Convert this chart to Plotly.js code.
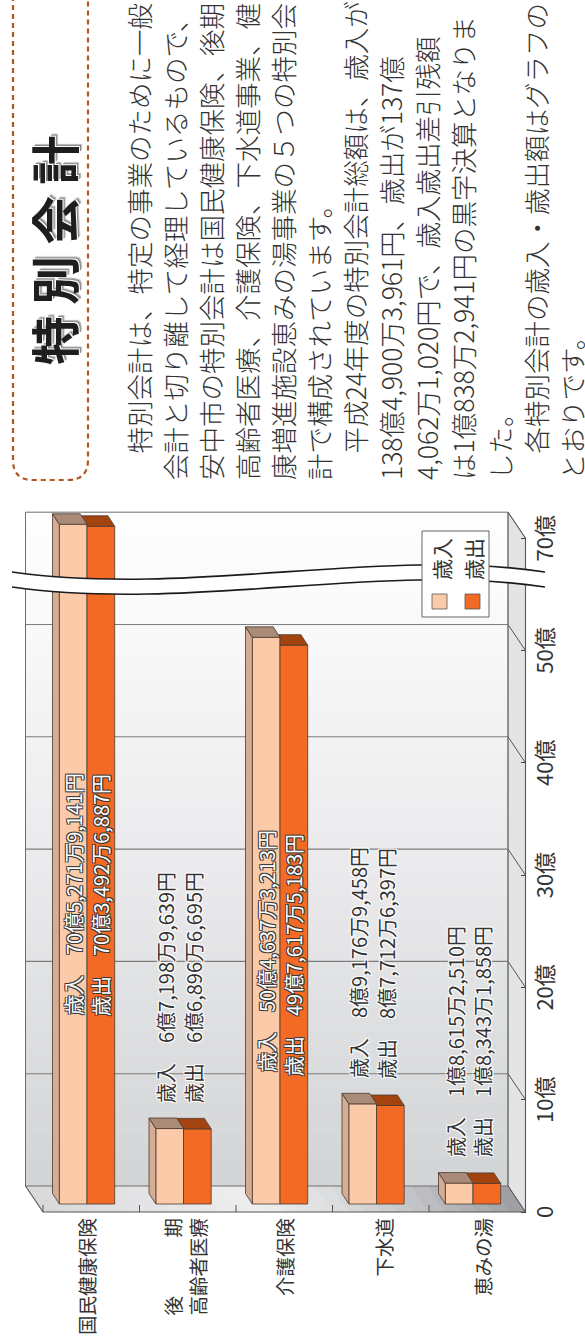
<!DOCTYPE html>
<html><head><meta charset="utf-8">
<script src="https://cdn.plot.ly/plotly-3.0.1.min.js"></script>
<style>
html,body{margin:0;padding:0;background:#fff;overflow:hidden;width:585px;height:1342px;}
#wrap{position:absolute;left:0;top:0;width:1342px;height:585px;transform-origin:0 0;transform:translate(0px,1342px) rotate(-90deg);}
#chart{width:1342px;height:585px;}
</style></head><body><div id="wrap"><div id="chart"></div></div>
<script>
// ---------------- data ----------------
const categories = ['国民健康保険', '後期高齢者医療', '介護保険', '下水道', '恵みの湯'];
const categoryLabels = ['国民健康保険', '後　　　期<br>高齢者医療', '介護保険', '下水道', '恵みの湯'];
const seriesNames = ['歳入', '歳出'];
const revenueYen = [7052719141, 671989639, 5046373213, 891769458, 186152510];
const expenditureYen = [7034926887, 668966695, 4976175183, 877126397, 183431858];
const tickValues = [0, 10, 20, 30, 40, 50, 70];
const tickLabels = ['0', '10億', '20億', '30億', '40億', '50億', '70億'];
const titleText = '特\u00a0別\u00a0会\u00a0計';
const bodyLines = [
  '　特別会計は、特定の事業のために一般',
  '会計と切り離して経理しているもので、',
  '安中市の特別会計は国民健康保険、後期',
  '高齢者医療、介護保険、下水道事業、健',
  '康増進施設恵みの湯事業の５つの特別会',
  '計で構成されています。',
  '　平成24年度の特別会計総額は、歳入が',
  '138億4,900万3,961円、歳出が137億',
  '4,062万1,020円で、歳入歳出差引残額',
  'は1億838万2,941円の黒字決算となりま',
  'した。',
  '　各特別会計の歳入・歳出額はグラフの',
  'とおりです。'
];

// ---------------- helpers ----------------
const FONT = "'Noto Sans CJK JP', 'Noto Sans', sans-serif";
const W = 1342, H = 585;
const U0 = 138, K = 11.23, V0 = 87, G = 96.5;        // pixel scales of the bar plane
const X = u => (u - U0) / K;
const Y = v => (v - V0) / G;
const BREAK_AT = 55, BREAK_GAP = 10;
const tv = v => (v > BREAK_AT ? v - BREAK_GAP : v);   // broken value axis
const BAR_W = 27.7, DX = 10.5, DY = 6.8;               // bar thickness and depth (px)
const LINE = '#4b3a30';
const COL = {rev: '#FBCBA9', exp: '#F26A24', revSide: '#D6AD93', revCap: '#A98B78', expCap: '#A3430F'};

const rev = revenueYen.map(n => n / 1e8);
const exp = expenditureYen.map(n => n / 1e8);
const idx = categories.map((c, i) => i);

function comma(n) { return n >= 1000 ? Math.floor(n / 1000) + ',' + String(n % 1000).padStart(3, '0') : String(n); }
function fmtYen(n) {
  const oku = Math.floor(n / 1e8), man = Math.floor((n % 1e8) / 1e4), en = n % 1e4;
  return oku + '億' + comma(man) + '万' + comma(en) + '円';
}
function hex2rgb(h) { h = h.replace('#', ''); return [0, 2, 4].map(i => parseInt(h.substr(i, 2), 16)); }
function lerpColor(stops, t) {
  for (let i = 0; i < stops.length - 1; i++) {
    const [a, ca] = stops[i], [b, cb] = stops[i + 1];
    if (t <= b || i === stops.length - 2) {
      const f = Math.max(0, Math.min(1, (t - a) / (b - a)));
      const A = hex2rgb(ca), B = hex2rgb(cb);
      return 'rgb(' + A.map((x, j) => Math.round(x + (B[j] - x) * f)).join(',') + ')';
    }
  }
}
function path(pts, close) {
  return 'M' + pts.map(p => X(p[0]).toFixed(4) + ',' + Y(p[1]).toFixed(4)).join('L') + (close ? 'Z' : '');
}
function polyTrace(polys, color) {
  const x = [], y = [];
  polys.forEach(p => { p.concat([p[0]]).forEach(q => { x.push(X(q[0])); y.push(Y(q[1])); }); x.push(null); y.push(null); });
  return {type: 'scatter', mode: 'lines', x, y, fill: 'toself', fillcolor: color,
          line: {color: LINE, width: 0.8}, hoverinfo: 'skip', showlegend: false};
}

// ---------------- geometry of the box ----------------
const bu0 = 156, bv0 = 25.5, bv1 = 508;            // back wall (value 0 edge, top & bottom)
const bu1 = bu0 + K * tv(70);                      // back wall top (70億)
const fdu = -26, fdv = 17.5;                       // front offset from back
const shapes = [];
const backStops = [[0, '#d2d3d6'], [10, '#dadbdd'], [20, '#e3e4e6'], [30, '#ebebed'], [40, '#f2f2f3'], [50, '#f9f9f9'], [60, '#fefefe']];
const NB = 48;
for (let j = 0; j < NB; j++) {
  const a = bu0 + (bu1 - bu0) * j / NB, b = bu0 + (bu1 - bu0) * (j + 1) / NB + 0.6;
  shapes.push({type: 'rect', xref: 'x', yref: 'y', layer: 'below', x0: X(a), x1: X(Math.min(b, bu1)), y0: Y(bv0), y1: Y(bv1),
               fillcolor: lerpColor(backStops, (j + 0.5) / NB * 60), line: {width: 0}});
}
const floorStops = [[0, '#d7d8da'], [0.2, '#e3e3e5'], [0.45, '#eeeeef'], [0.62, '#dcdddf'], [0.8, '#bfc0c3'], [1, '#9c9da0']];
const NF = 30;
for (let j = 0; j < NF; j++) {
  const sa = j / NF, sb = Math.min(1, (j + 1) / NF + 0.004);
  const va = bv0 + (bv1 - bv0) * sa, vb = bv0 + (bv1 - bv0) * sb;
  shapes.push({type: 'path', xref: 'x', yref: 'y', layer: 'below',
               path: path([[bu0, va], [bu0, vb], [bu0 + fdu, vb + fdv], [bu0 + fdu, va + fdv]], true),
               fillcolor: lerpColor(floorStops, (j + 0.5) / NF), line: {width: 0}});
}
shapes.push({type: 'path', xref: 'x', yref: 'y', layer: 'below',
             path: path([[bu0, bv1], [bu1, bv1], [bu1 + fdu, bv1 + fdv], [bu0 + fdu, bv1 + fdv]], true),
             fillcolor: '#e3e4e6', line: {color: '#707070', width: 1}});
tickValues.forEach(t => {
  const u = bu0 + K * tv(t);
  if (t > 0 && t < 70) shapes.push({type: 'line', xref: 'x', yref: 'y', layer: 'below', x0: X(u), x1: X(u), y0: Y(bv0), y1: Y(bv1), line: {color: '#7d7d7d', width: 1.1}});
  shapes.push({type: 'line', xref: 'x', yref: 'y', layer: 'below', x0: X(u), x1: X(u + fdu), y0: Y(bv1), y1: Y(bv1 + fdv), line: {color: '#555', width: 1}});
});
shapes.push({type: 'path', xref: 'x', yref: 'y', layer: 'below',
             path: path([[bu0, bv0], [bu1, bv0], [bu1, bv1], [bu0, bv1]], true), line: {color: '#6e6e6e', width: 1}});
shapes.push({type: 'path', xref: 'x', yref: 'y', layer: 'below',
             path: path([[bu0, bv0], [bu0 + fdu, bv0 + fdv], [bu0 + fdu, bv1 + fdv]], false), line: {color: '#555', width: 1.1}});
shapes.push({type: 'path', xref: 'x', yref: 'y', layer: 'below',
             path: path([[bu1 + fdu, bv1 + fdv], [bu0 + fdu, bv1 + fdv]], false), line: {color: '#555', width: 1.1}});
for (let j = 0; j <= categories.length; j++) {
  const v = bv0 + fdv + (bv1 - bv0) * j / categories.length;
  shapes.push({type: 'line', xref: 'x', yref: 'y', layer: 'below', x0: X(bu0 + fdu), x1: X(bu0 + fdu + 7), y0: Y(v), y1: Y(v), line: {color: '#555', width: 1}});
}
// title frame (dashed, rounded)
shapes.push({type: 'path', xref: 'x', yref: 'y', layer: 'above',
             path: 'M' + X(1346) + ',' + Y(13) + 'L' + X(882) + ',' + Y(13) + 'Q' + X(862) + ',' + Y(13) + ' ' + X(862) + ',' + Y(33) +
                   'L' + X(862) + ',' + Y(68) + 'Q' + X(862) + ',' + Y(88) + ' ' + X(882) + ',' + Y(88) + 'L' + X(1346) + ',' + Y(88),
             line: {color: '#B0561E', width: 2.2, dash: '5px,4px'}});
// axis break band
const up = [[770, 12], [745, 190], [795, 380], [770, 545]];
const lo = up.map(p => [p[0] - 15, p[1]]);
const bz = pts => 'M' + X(pts[0][0]) + ',' + Y(pts[0][1]) + 'C' + pts.slice(1).map(p => X(p[0]) + ',' + Y(p[1])).join(' ');
shapes.push({type: 'path', xref: 'x', yref: 'y', layer: 'above',
             path: bz(up) + 'L' + X(lo[3][0]) + ',' + Y(lo[3][1]) + 'C' + [lo[2], lo[1], lo[0]].map(p => X(p[0]) + ',' + Y(p[1])).join(' ') + 'Z',
             fillcolor: '#ffffff', line: {width: 0}});
shapes.push({type: 'path', xref: 'x', yref: 'y', layer: 'above', path: bz(up), line: {color: '#1a1a1a', width: 1.6}});
shapes.push({type: 'path', xref: 'x', yref: 'y', layer: 'above', path: bz(lo), line: {color: '#1a1a1a', width: 1.6}});
// legend box and swatches
shapes.push({type: 'rect', xref: 'x', yref: 'y', layer: 'above', x0: X(725), x1: X(811), y0: Y(422), y1: Y(489),
             fillcolor: '#ffffff', line: {color: '#666', width: 1}});
[[COL.rev, 432], [COL.exp, 465]].forEach(([c, v]) => shapes.push({type: 'rect', xref: 'x', yref: 'y', layer: 'above',
             x0: X(733), x1: X(748), y0: Y(v), y1: Y(v + 15), fillcolor: c, line: {color: '#555', width: 0.8}}));

// ---------------- 3D faces of the bars ----------------
const expCaps = [], revSides = [], revCaps = [];
idx.forEach(i => {
  const eo = U0 + K * tv(exp[i]), ei = Math.max(eo, U0 + K * tv(rev[i]));
  const t = V0 + G * i, b = t + BAR_W;
  expCaps.push([[eo, t], [Math.min(ei, eo + DX), t], [eo + DX, t - DY * Math.max(0, eo + DX - ei) / DX], [eo + DX, b - DY], [eo, b]]);
  const ti = t - BAR_W, ein = U0 + K * tv(rev[i]);
  revSides.push([[U0, ti], [ein, ti], [ein + DX, ti - DY], [U0 + DX, ti - DY]]);
  revCaps.push([[ein, ti], [ein, t], [ein + DX, t - DY], [ein + DX, ti - DY]]);
});

const traces = [
  {type: 'bar', orientation: 'h', name: seriesNames[0], x: rev.map(tv), y: idx, width: BAR_W / G, offset: -BAR_W / G,
   marker: {color: COL.rev, line: {color: LINE, width: 0.8}}, hoverinfo: 'skip', showlegend: false},
  {type: 'bar', orientation: 'h', name: seriesNames[1], x: exp.map(tv), y: idx, width: BAR_W / G, offset: 0,
   marker: {color: COL.exp, line: {color: LINE, width: 0.8}}, hoverinfo: 'skip', showlegend: false},
  polyTrace(expCaps, COL.expCap),
  polyTrace(revSides, COL.revSide),
  polyTrace(revCaps, COL.revCap),
  {type: 'scatter', mode: 'markers', x: [0], y: [0], xaxis: 'x2', yaxis: 'y', marker: {opacity: 0}, showlegend: false, hoverinfo: 'skip'},
  {type: 'scatter', mode: 'markers', x: idx.map(() => 0), y: categories, xaxis: 'x', yaxis: 'y3', marker: {opacity: 0}, showlegend: false, hoverinfo: 'skip'}
];

// ---------------- annotations ----------------
const annotations = [];
annotations.push({xref: 'x', yref: 'y', x: X(1091), y: Y(52), text: titleText, showarrow: false, xanchor: 'center', yanchor: 'middle',
  font: {family: FONT, size: 49, weight: 700, color: '#1e1e1e', shadow: '1px 1px 0 #fff, 2px 2px 0 #8a8a8a, 3px 3px 1px #b5b5b5'}});
bodyLines.forEach((line, k) => annotations.push({xref: 'x', yref: 'y', x: X(860), y: Y(138 + 36.1 * k), text: line, showarrow: false,
  xanchor: 'left', yanchor: 'middle', font: {family: FONT, size: 26.5, weight: 300, color: '#333333'}}));
const darkHalo = '-1px -1px 0 #3a3a3a, 1px -1px 0 #3a3a3a, -1px 1px 0 #3a3a3a, 1px 1px 0 #3a3a3a';
const whiteHalo = '-1px -1px 0 #fff, 1px -1px 0 #fff, -1px 1px 0 #fff, 1px 1px 0 #fff';
[revenueYen, expenditureYen].forEach((arr, s) => {
  arr.forEach((n, i) => {
    const val = tv(n / 1e8);
    const yc = i + (s === 0 ? -0.5 : 0.5) * BAR_W / G;
    const inside = val > 30;
    annotations.push({xref: 'x', yref: 'y', x: inside ? val / 2 : val, y: yc, xshift: inside ? -30 : 24, yshift: inside ? 0 : 4,
      text: seriesNames[s] + '　' + fmtYen(n), showarrow: false, xanchor: inside ? 'center' : 'left', yanchor: 'middle',
      font: {family: FONT, size: 20, color: inside ? '#ffffff' : '#333333', shadow: inside ? darkHalo : whiteHalo}});
  });
});
// legend texts
[[seriesNames[0], 441], [seriesNames[1], 473]].forEach(([t, v]) => annotations.push({xref: 'x', yref: 'y', x: X(760), y: Y(v), text: t,
  showarrow: false, xanchor: 'left', yanchor: 'middle', font: {family: FONT, size: 21, color: '#333'}}));

const layout = {
  width: W, height: H, autosize: false,
  margin: {l: 0, r: 0, t: 0, b: 0, pad: 0},
  paper_bgcolor: '#ffffff', plot_bgcolor: '#ffffff',
  font: {family: FONT, color: '#333'},
  barmode: 'overlay',
  showlegend: false,
  xaxis: {domain: [0, 1], range: [X(0), X(W)], showgrid: false, zeroline: false, showticklabels: false, showline: false, ticks: '', fixedrange: true},
  yaxis: {domain: [0, 1], range: [Y(H), Y(0)], showgrid: false, zeroline: false, showticklabels: false, showline: false, ticks: '', fixedrange: true},
  xaxis2: {overlaying: 'x', anchor: 'free', position: 1 - (bv1 + fdv) / H, side: 'bottom',
           range: [(0 - (bu0 + fdu)) / K, (W - (bu0 + fdu)) / K],
           tickmode: 'array', tickvals: tickValues.map(tv), ticktext: tickLabels,
           ticks: 'inside', ticklen: 5, tickcolor: '#444', tickwidth: 1, showgrid: false, zeroline: false, showline: false,
           ticklabelstandoff: 4, tickfont: {family: FONT, size: 22, color: '#333'}, fixedrange: true},
  yaxis3: {overlaying: 'y', anchor: 'free', position: 124 / W, side: 'left', type: 'category',
           range: [(H - 87.8) / 99.1, -87.8 / 99.1],
           tickmode: 'array', tickvals: categories, ticktext: categoryLabels,
           ticks: '', showgrid: false, zeroline: false, showline: false,
           tickfont: {family: FONT, size: 19.5, color: '#333'}, fixedrange: true},
  shapes, annotations
};

Plotly.newPlot('chart', traces, layout, {staticPlot: true, displayModeBar: false});
</script></body></html>
